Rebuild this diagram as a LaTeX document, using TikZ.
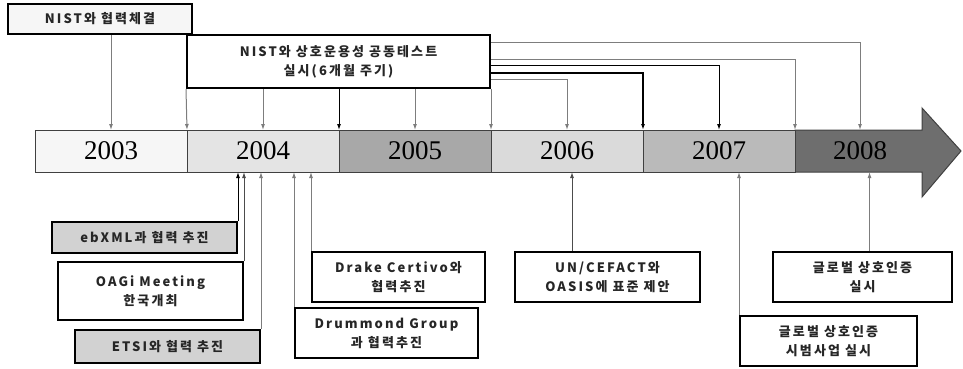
\documentclass[tikz,border=0pt]{standalone}
\usepackage{fontspec}
\setmainfont{Liberation Serif}
\newfontfamily\kfont[LetterSpace=16]{Noto Sans CJK KR}
\usetikzlibrary{positioning}
\usetikzlibrary{calc}
\usetikzlibrary{arrows.meta}
\definecolor{seg3}{RGB}{246,246,246}
\definecolor{seg4}{RGB}{228,228,228}
\definecolor{seg5}{RGB}{168,168,168}
\definecolor{seg6}{RGB}{218,218,218}
\definecolor{seg7}{RGB}{186,186,186}
\definecolor{seg8}{RGB}{110,110,110}
\definecolor{boxgray}{RGB}{210,210,210}
\definecolor{linegray}{RGB}{125,125,125}
\tikzset{
	year/.style={draw=black!75,line width=1pt,minimum height=42pt,minimum width=152pt,inner sep=0pt,outer sep=0pt,font=\fontsize{27}{27}\selectfont},
	event/.style={draw=black,line width=2pt,align=center,inner sep=0pt,fill=white,text=black!85,font=\kfont\bfseries\fontsize{13}{19}\selectfont},
	tick/.style={-{Latex[length=6pt,width=4pt]},line width=1pt,linegray},
}

\begin{document}
\begin{tikzpicture}[x=1pt,y=1pt]
				\useasboundingbox (0,0) rectangle (963,368);
				
				% 2008 arrow shape.....................
				\filldraw [fill=seg8,draw=black!75,line width=1pt] (795,238) -- (922,238) -- (922,260) -- (961,217) -- (922,171) -- (922,196) -- (795,196) -- cycle;
				
				% year bar.....................
				\node [year,fill=seg3] (y2003) at (111,217) {2003};
				\node [year,fill=seg4,right=0pt of y2003] (y2004) {2004};
				\node [year,fill=seg5,right=0pt of y2004] (y2005) {2005};
				\node [year,fill=seg6,right=0pt of y2005] (y2006) {2006};
				\node [year,fill=seg7,right=0pt of y2006] (y2007) {2007};
				\node [year,draw=none,minimum width=130pt,right=0pt of y2007] (y2008) {2008};
				
				% NIST boxes...................
				\node [event,minimum width=303pt,minimum height=53pt] (nistB) at (338.5,306.5) {NIST와 상호운용성 공동테스트\\실시(6개월 주기)};
				\node [event,fill=seg3,minimum width=184pt,minimum height=30pt] (nistA) at (100,349) {NIST와 협력체결};
				
				% arrows down to the bar.............
				\draw [tick] (y2003.north |- nistA.south) -- (y2003.north);
				\draw [tick] (nistB.south west) -- (y2003.north east);
				\draw [tick] (y2004.north |- nistB.south) -- (y2004.north);
				\draw [tick,black] (y2004.north east |- nistB.south) -- (y2004.north east);
				\draw [tick] (y2005.north |- nistB.south) -- (y2005.north);
				\draw [tick] (y2005.north east |- nistB.south) -- (y2005.north east);
				
				% 6 month test cycle.............
				\draw [tick] ([yshift=-8pt]nistB.north east) -| (y2008.north);
				\draw [tick] ([yshift=-25pt]nistB.north east) -| (y2007.north east);
				\draw [tick,black] ([yshift=-31pt]nistB.north east) -| (y2007.north);
				\draw [tick,black,line width=1.4pt] ([yshift=-39pt]nistB.north east) -| (y2006.north east);
				\draw [tick] ([yshift=-45pt]nistB.north east) -| (y2006.north);
				
				% 2004 events..........................
				\node [event,fill=boxgray,minimum width=185pt,minimum height=31pt] (ebxml) at (144.5,130.5) {ebXML과 협력 추진};
				\node [event,minimum width=185pt,minimum height=58pt] (oag) at (150.5,77) {OAGi Meeting\\한국개최};
				\node [event,fill=boxgray,minimum width=185pt,minimum height=33pt] (etsi) at (167.5,21.5) {ETSI와 협력 추진};
				\node [event,minimum width=173pt,minimum height=50pt] (drake) at (398.5,91) {Drake Certivo와\\협력추진};
				\node [event,minimum width=183pt,minimum height=50pt] (drummond) at (386.5,35) {Drummond Group\\과 협력추진};
				
				\draw [tick,black] (ebxml.north east) -- (ebxml.north east |- y2004.south);
				\draw [tick,black!70] (oag.north east) -- (oag.north east |- y2004.south);
				\draw [tick] (etsi.north east) -- (etsi.north east |- y2004.south);
				\draw [tick] (drummond.north west) -- (drummond.north west |- y2004.south);
				\draw [tick] (drake.north west) -- (drake.north west |- y2004.south);
				
				% later events..........................
				\node [event,minimum width=185pt,minimum height=50pt] (uncefact) at (607.5,91) {UN/CEFACT와\\OASIS에 표준 제안};
				\node [event,minimum width=179pt,minimum height=50pt] (global1) at (862.5,91) {글로벌 상호인증\\실시};
				\node [event,minimum width=177pt,minimum height=50pt] (global2) at (828.5,27) {글로벌 상호인증\\시범사업 실시};
				
				\draw [tick,black!70] ($(uncefact.north west)+(58,0)$) coordinate (uc) -- (uc |- y2006.south);
				\draw [tick] ($(global1.north)+(7,0)$) coordinate (gl) -- (gl |- y2008.south);
				\draw [tick] (global2.north west) -- (global2.north west |- y2007.south);
			\end{tikzpicture}
\end{document}
